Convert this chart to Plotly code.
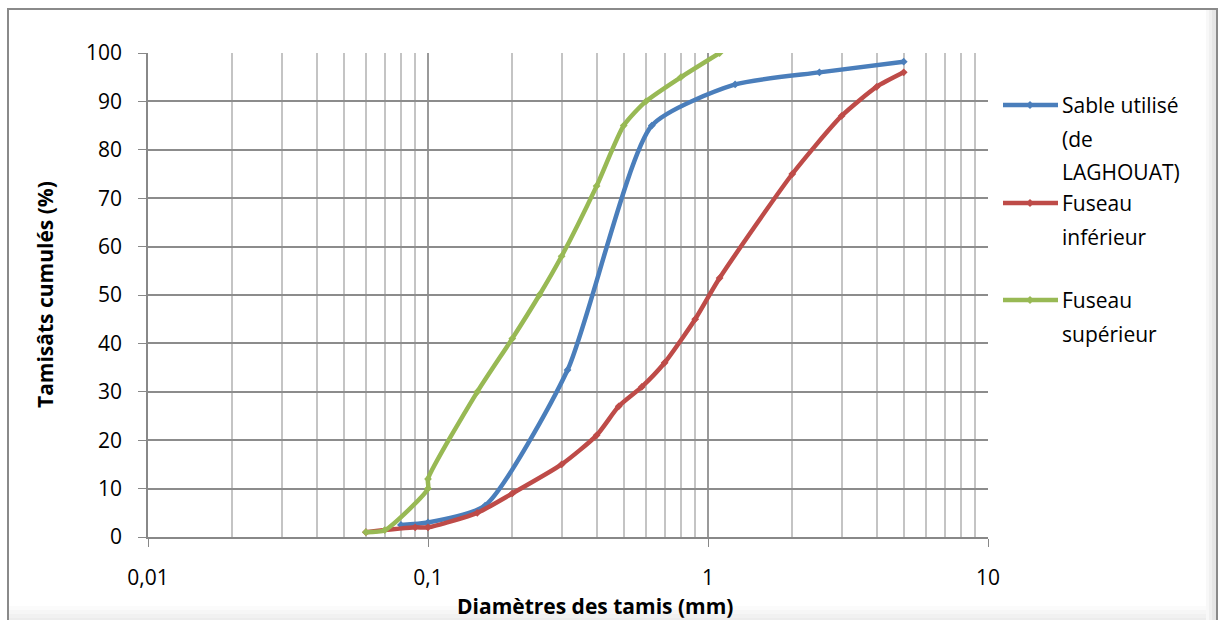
import plotly.graph_objects as go

# Granulometric curves: sieve diameter (mm) vs cumulative passing (%)
sable_d = [0.08, 0.1, 0.16, 0.315, 0.63, 1.25, 2.5, 5]
sable_p = [2.5, 3, 6.5, 34.5, 85, 93.5, 96, 98.2]

inf_d = [0.06, 0.09, 0.1, 0.15, 0.2, 0.3, 0.4, 0.48, 0.58, 0.7, 0.9, 1.1, 2, 3, 4, 5]
inf_p = [1, 2, 2, 5, 9, 15, 21, 27, 31, 36, 45, 53.5, 75, 87, 93, 96]

sup_d = [0.06, 0.07, 0.1, 0.1, 0.15, 0.2, 0.25, 0.3, 0.4, 0.5, 0.6, 0.8, 1.1]
sup_p = [1, 1.4, 10, 12, 30, 41, 50, 58, 72.5, 85, 90, 95, 100]

x_tickvals = [0.01, 0.1, 1, 10]
x_ticktext = ["0,01", "0,1", "1", "10"]
y_tickvals = list(range(0, 101, 10))
x_minor = [k * 10.0 ** e for e in (-2, -1, 0) for k in range(2, 10)]

series = [
    (["Sable utilisé", "(de", "LAGHOUAT)"], sable_d, sable_p, "#4A7EBB"),
    (["Fuseau", "inférieur"], inf_d, inf_p, "#BE4B48"),
    (["Fuseau", "supérieur"], sup_d, sup_p, "#98B954"),
]

FONT = "Open Sans, sans-serif"
W, H = 1222, 620
L, R, T, B = 148, 988, 53, 537


def px_x(px):
    return (px - L) / (R - L)


def px_y(py):
    return (B - py) / (B - T)


fig = go.Figure()
for lines, xd, yd, col in series:
    fig.add_trace(go.Scatter(
        x=xd, y=yd, name=" ".join(lines), mode="lines+markers",
        line=dict(color=col, width=4.5, shape="spline", smoothing=0.6),
        marker=dict(symbol="diamond", size=6, color=col),
        showlegend=False,
    ))

fig.update_layout(
    width=W, height=H,
    margin=dict(l=L, r=W - R, t=T, b=H - B),
    paper_bgcolor="white", plot_bgcolor="white",
    font=dict(family=FONT, size=21, color="black"),
    xaxis=dict(
        type="log", range=[-2, 1],
        tickvals=x_tickvals, ticktext=x_ticktext,
        showgrid=True, gridcolor="#9a9a9a", gridwidth=1.5,
        minor=dict(tickvals=x_minor, showgrid=True,
                   gridcolor="#c4c4c4", gridwidth=1.5, ticks=""),
        showline=True, linecolor="#888888", linewidth=1.5,
        ticks="outside", ticklen=8, tickcolor="#888888",
        tickfont=dict(size=21), ticklabelstandoff=13,
        zeroline=False,
    ),
    yaxis=dict(
        range=[0, 100], tickvals=y_tickvals,
        showgrid=True, gridcolor="#8c8c8c", gridwidth=1.5,
        showline=True, linecolor="#888888", linewidth=1.5,
        ticks="outside", ticklen=8, tickcolor="#888888",
        tickfont=dict(size=21), ticklabelstandoff=12,
        zeroline=False,
    ),
)

# Axis titles
fig.add_annotation(text="<b>Diamètres des tamis (mm)</b>", xref="paper", yref="paper",
                   x=px_x(595), y=px_y(606), showarrow=False,
                   font=dict(size=21), xanchor="center", yanchor="middle")
fig.add_annotation(text="<b>Tamisâts cumulés (%)</b>", xref="paper", yref="paper",
                   x=px_x(45), y=px_y(295), showarrow=False, textangle=-90,
                   font=dict(size=21), xanchor="center", yanchor="middle")

# Legend drawn at the right of the plot
legend_rows = [105, 203, 300]
line_gap = 33.5
for (lines, _, _, col), ry in zip(series, legend_rows):
    fig.add_shape(type="line", xref="paper", yref="paper",
                  x0=px_x(1003), x1=px_x(1058), y0=px_y(ry), y1=px_y(ry),
                  line=dict(color=col, width=4.5))
    cx, cy, d = 1030, ry, 4
    fig.add_shape(type="path", xref="paper", yref="paper",
                  path=(f"M {px_x(cx - d)} {px_y(cy)} L {px_x(cx)} {px_y(cy - d)} "
                        f"L {px_x(cx + d)} {px_y(cy)} L {px_x(cx)} {px_y(cy + d)} Z"),
                  fillcolor=col, line=dict(color=col, width=0))
    for i, txt in enumerate(lines):
        fig.add_annotation(text=txt, xref="paper", yref="paper",
                           x=px_x(1060), y=px_y(ry + i * line_gap),
                           showarrow=False, xanchor="left", yanchor="middle",
                           font=dict(size=21))

# Soft shadow along the bottom and right edge of the frame
for i, c in enumerate(["#fbfbfb", "#f6f6f6", "#f1f1f1", "#ececec"]):
    fig.add_shape(type="rect", xref="paper", yref="paper", layer="below",
                  x0=px_x(9), x1=px_x(1216), y0=px_y(640), y1=px_y(606 + i * 4),
                  fillcolor=c, line=dict(width=0))
for i, c in enumerate(["#f8f8f8", "#f0f0f0", "#e6e6e6"]):
    fig.add_shape(type="rect", xref="paper", yref="paper", layer="below",
                  x0=px_x(1206 + i * 3), x1=px_x(1216), y0=px_y(640), y1=px_y(10),
                  fillcolor=c, line=dict(width=0))

# Chart frame
fig.add_shape(type="rect", xref="paper", yref="paper",
              x0=px_x(8), x1=px_x(1217), y0=px_y(640), y1=px_y(9),
              line=dict(color="#8a8a8a", width=2), layer="below")

fig.write_html("out.html")
